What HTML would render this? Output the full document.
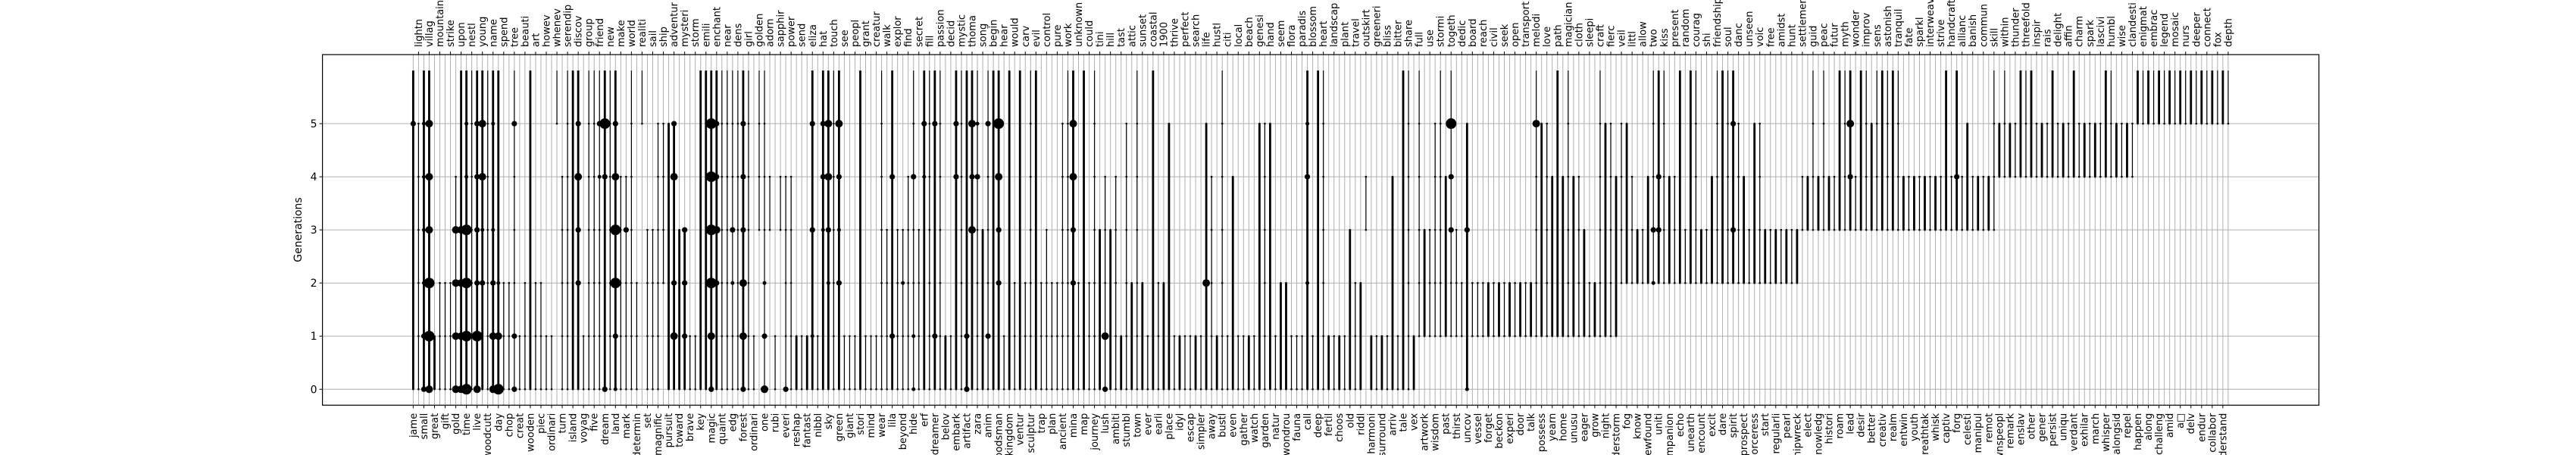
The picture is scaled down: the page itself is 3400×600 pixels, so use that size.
<!DOCTYPE html>
<html><head><meta charset="utf-8"><title>Word generations chart</title>
<style>
html,body{margin:0;padding:0;background:#fff;width:3400px;height:600px;overflow:hidden;}
svg{display:block;font-family:"DejaVu Sans","Liberation Sans",sans-serif;overflow:hidden;}
</style></head>
<body>
<svg id="chart" width="3400" height="600" viewBox="0 0 3400 600" xmlns="http://www.w3.org/2000/svg">
<rect x="0" y="0" width="3400" height="600" fill="#fff"/>
<g id="grid"></g>
<g id="marks"></g>
<g id="axes"></g>
<text x="0" y="0" transform="translate(398,303) rotate(-90)" text-anchor="middle" font-size="14" fill="#000">Generations</text>
</svg>
<script>
const words = ["jame","lightn","small","villag","great","mountain","gift","strike","gold","upon","time","nestl","live","young","woodcutt","name","day","spend","chop","tree","creat","beauti","wooden","art","piec","howev","ordinari","whenev","turn","serendip","island","discov","voyag","group","five","friend","dream","new","land","make","mark","world","determin","realiti","set","sail","magnific","ship","pursuit","adventur","toward","mysteri","brave","storm","key","emili","magic","enchant","quaint","near","edg","dens","forest","girl","ordinari","golden","one","adorn","rubi","sapphir","everi","power","reshap","send","fantast","eliza","nibbl","hat","sky","touch","green","see","giant","peopl","stori","grant","mind","creatur","wear","walk","lila","explor","beyond","find","hide","secret","erf","fill","dreamer","passion","belov","decid","embark","mystic","artifact","thoma","zara","song","anim","begin","woodsman","hear","kingdom","would","ventur","carv","sculptur","evil","trap","control","plan","pure","ancient","work","mina","unknown","map","could","journey","tini","lush","hill","ambiti","tast","stumbl","attic","town","sunset","ever","coastal","earli","1900","place","thrive","idyl","perfect","escap","search","simpler","life","away","hustl","bustl","citi","even","local","gather","beach","watch","genesi","garden","hand","natur","seem","wondrou","flora","fauna","paradis","call","blossom","deep","heart","fertil","landscap","choos","plant","old","travel","riddl","outskirt","harmoni","greeneri","surround","bliss","arriv","bitter","tale","share","vex","full","artwork","use","wisdom","stormi","past","togeth","thirst","dedic","uncov","board","vessel","reach","forget","civil","beckon","seek","experi","open","door","transport","talk","melodi","possess","love","yearn","path","home","magician","unusu","cloth","eager","sleepi","grow","craft","night","fierc","thunderstorm","veil","fog","littl","know","allow","newfound","two","uniti","kiss","companion","present","echo","random","unearth","courag","encount","shi","excit","friendship","dare","soul","spirit","danc","prospect","unseen","sorceress","voic","start","free","regularli","amidst","pearl","hunt","shipwreck","settlement","elect","guid","knowledg","peac","histori","futur","roam","myth","lead","wonder","desir","improv","better","sens","creativ","astonish","realm","tranquil","entwin","fate","youth","sparkl","breathtak","interweav","whisk","strive","captiv","handcraft","forg","allianc","celesti","banish","manipul","commun","remot","skill","townspeopl","within","remark","thunder","enslav","threefold","other","inspir","gener","rais","persist","delight","uniqu","affin","verdant","charm","exhilar","spark","march","lascivi","whisper","humbl","alongsid","wise","repel","clandesti","happen","enigmat","along","embrac","challeng","legend","amid","mosaic","a\u25A1","nurs","delv","deeper","endur","connect","collabor","fox","understand","depth"];
const starts = [0,0,0,0,0,0,0,0,0,0,0,0,0,0,0,0,0,0,0,0,0,0,0,0,0,0,0,5,0,0,0,0,0,0,0,0,0,0,0,0,0,0,0,5,0,0,0,2,0,0,0,0,0,0,0,0,0,0,0,0,0,0,0,0,0,3,0,3,0,3,0,0,0,0,
0,0,0,0,0,0,0,0,0,0,0,0,0,0,0,0,0,0,0,0,0,0,0,0,0,0,0,0,0,0,0,0,0,0,0,0,0,0,0,0,0,0,0,0,0,0,0,0,0,0,0,0,0,0,0,0,0,0,0,0,0,0,0,0,0,0,0,0,0,0,0,0,0,0,0,0,0,0,0,0,0,0,0,0,0,0,0,0,0,0,0,0,0,0,0,0,0,0,
0,0,0,0,0,0,0,3,0,0,0,0,0,0,0,0,0,1,1,1,1,1,1,1,1,1,0,1,1,1,1,1,1,1,1,1,1,1,1,1,1,1,1,1,1,1,1,1,1,1,1,1,1,1,1,2,2,2,2,2,2,2,2,2,2,2,2,2,2,2,2,2,2,2,2,2,2,2,2,2,2,2,2,2,2,2,2,2,2,3,3,3,3,3,3,3,3,3,3,3,3,3,3,3,3,3,3,3,3,3,3,3,3,3,3,3,3,3,3,3,3,3,3,3,3,3,
4,4,4,4,4,4,4,4,4,4,4,4,4,4,4,4,4,4,4,4,4,4,4,4,4,4,5,5,5,5,5,5,5,5,5,5,5,5,5,5,5,5,5,5];
const ends = [6,5,6,6,1,2,2,2,4,6,6,6,6,6,6,6,6,2,2,6,1,2,6,2,2,1,1,6,4,6,6,6,1,6,6,6,6,6,6,4,4,6,2,6,3,3,5,5,5,5,3,3,1,1,6,6,6,6,6,6,6,6,6,6,1,6,6,4,1,4,4,4,1,1,
1,6,1,6,6,6,6,1,1,1,6,1,1,1,6,3,6,3,3,4,6,3,6,6,6,6,1,1,6,6,6,6,6,3,6,6,6,1,6,2,6,2,6,6,2,3,2,2,5,6,6,2,6,2,6,3,4,3,4,1,5,2,6,2,1,6,2,2,5,1,1,1,1,1,1,5,4,1,6,1,4,1,1,1,1,5,5,5,1,2,2,1,1,1,6,1,6,6,
1,1,1,1,3,2,2,4,1,1,1,1,4,1,6,6,1,6,3,3,5,6,4,6,3,2,5,2,2,2,2,2,2,2,2,2,2,2,2,6,5,5,4,6,4,6,4,4,3,2,2,6,5,5,4,5,5,4,3,3,4,6,6,6,4,4,6,3,6,6,3,3,4,6,6,6,6,5,4,3,5,5,3,3,3,3,3,3,3,4,4,6,4,6,4,4,6,6,6,4,6,6,5,6,6,6,6,6,4,4,4,4,4,4,4,4,6,4,6,4,5,4,4,4,4,6,
5,6,5,5,6,6,6,5,5,5,6,5,5,5,6,5,5,5,5,5,6,6,5,5,5,5,6,6,6,6,6,6,6,6,6,6,6,6,6,6,6,6,6,6];
const thick = [1,0,1,1,1,0,0,0,0,1,1,0,1,1,0,1,1,0,0,0,0,0,1,0,0,0,0,0,0,0,1,1,0,0,0,0,1,0,1,0,0,0,0,0,0,0,0,0,1,1,1,1,0,0,1,1,1,1,0,0,0,0,1,0,0,0,0,0,0,0,0,0,1,0,
1,1,0,1,1,0,1,0,0,0,1,0,0,0,0,0,1,0,0,0,0,0,1,0,1,0,1,0,1,0,1,1,0,1,0,1,1,0,1,0,1,0,0,1,0,0,0,0,0,0,1,0,1,0,0,1,0,1,0,1,0,1,0,1,0,1,0,1,1,0,1,0,0,1,0,1,0,1,0,0,1,0,0,1,0,1,0,1,0,1,1,0,0,0,1,0,1,0,1,0,1,0,
1,0,1,0,1,0,1,0,1,0,1,0,1,0,1,0,0,0,1,0,0,0,1,0,0,0,1,0,1,0,1,0,1,0,1,0,1,0,1,1,1,0,1,0,1,0,1,0,1,0,1,0,1,0,1,0,1,0,1,0,1,0,1,0,1,0,1,0,1,0,1,0,1,0,1,0,1,0,1,0,1,0,1,0,1,0,1,0,1,0,1,0,1,0,1,0,1,0,1,0,1,0,1,0,1,0,1,0,1,0,1,0,1,0,1,0,1,0,1,0,1,0,1,0,1,0,
1,0,1,0,1,0,1,0,1,0,1,0,1,0,1,0,1,0,1,0,1,0,1,0,1,0,1,0,1,0,1,0,1,0,1,0,1,0,1,0,1,0,1,0];
const dotCols = [0,2,2,2,2,2,2,3,3,3,3,3,3,8,8,8,8,9,9,9,9,10,10,10,10,10,10,12,12,12,12,12,12,13,13,13,13,15,15,15,15,15,16,16,16,19,19,19,31,31,31,31,35,35,36,36,36,38,38,38,38,38,38,40,49,49,49,49,51,51,51,56,56,56,56,56,56,57,57,57,57,60,60,62,62,62,62,62,62,66,66,66,70,75,75,75,77,77,77,78,78,78,78,80,80,80,80,90,90,92,94,94,94,96,96,98,98,102,102,104,104,105,105,105,106,106,108,108,110,110,110,110,124,124,124,124,130,130,149,168,168,168,195,195,195,198,198,211,233,233,234,234,248,248,270,270,290];
const dotGens = [5,0,1,2,3,4,5,0,1,2,3,4,5,0,1,2,3,0,1,2,3,0,1,2,3,4,5,0,1,2,3,4,5,4,5,3,2,0,1,2,3,5,0,1,2,0,1,5,2,3,4,5,4,5,0,4,5,0,1,2,3,4,5,3,1,2,4,5,1,2,3,1,2,3,4,5,0,2,3,4,5,2,3,0,1,2,3,4,5,0,1,2,0,3,5,1,5,4,3,5,4,3,2,5,4,3,2,4,1,2,4,1,0,5,4,5,1,5,4,0,1,5,4,3,4,5,1,5,5,4,3,2,5,4,3,2,1,0,2,4,5,2,5,4,3,3,0,5,3,2,3,4,3,5,5,4,4];
const dotSizes = [3,3,3,2,2,2,2,4,5,5,4,4,4,4,4,4,4,4,4,4,4,5,5,5,5,2,2,4,5,3,3,3,3,4,4,2,3,4,4,3,2,2,5,4,2,3,3,3,3,3,4,3,2,3,3,3,5,2,3,5,5,4,3,3,4,3,4,3,3,3,3,4,5,5,5,5,3,3,4,3,3,2,3,3,4,4,3,3,3,4,3,2,3,3,3,2,3,3,2,4,4,3,2,4,3,2,3,3,3,2,3,2,2,3,2,3,3,3,3,3,3,4,3,4,3,2,3,3,5,4,3,3,4,4,3,3,4,3,4,3,2,2,5,3,3,3,2,4,3,2,3,3,3,3,4,3,3];
const yTicks = ["0","1","2","3","4","5"];

const NS = "http://www.w3.org/2000/svg";
const PL = 425.6, PR = 3060.7, PT = 72, PB = 534.3;
const xMin = -17.05, xMax = words.length - 1 + 17.05;
const yMin = -0.3, yMax = 6.3;
function xs(i){ return PL + (i - xMin) / (xMax - xMin) * (PR - PL); }
function ys(g){ return PB - (g - yMin) / (yMax - yMin) * (PB - PT); }
const radius = [0, 1.3, 2.5, 3.6, 5, 7];
function mk(tag, attrs, parent){ const e = document.createElementNS(NS, tag); for (const k in attrs) e.setAttribute(k, attrs[k]); parent.appendChild(e); return e; }
const grid = document.getElementById('grid');
const marks = document.getElementById('marks');
const axes = document.getElementById('axes');

yTicks.forEach((t, gi) => {
  const l = mk('line', {x1: PL, x2: PR, y1: ys(gi), y2: ys(gi), stroke: '#b0b0b0', 'stroke-width': 1}, grid);
  
  
});
words.forEach((w, i) => {
  const l = mk('line', {x1: xs(i), x2: xs(i), y1: PT, y2: PB, stroke: '#b0b0b0', 'stroke-width': 1}, grid);
  
  
});
words.forEach((w, i) => {
  const l = mk('line', {x1: xs(i), x2: xs(i), y1: ys(starts[i]), y2: ys(ends[i]), stroke: '#000', 'stroke-width': thick[i] ? 2.8 : 1.2}, marks);
  
  
  for (let g = starts[i]; g <= Math.min(ends[i], 5); g++) {
    const c = mk('circle', {cx: xs(i), cy: ys(g), r: radius[1], fill: '#000'}, marks);
    
    
  }
});
dotCols.forEach((ci, k) => {
  const c = mk('circle', {cx: xs(ci), cy: ys(dotGens[k]), r: radius[dotSizes[k]], fill: '#000'}, marks);
  
  
});
const fr = mk('rect', {x: PL, y: PT, width: PR - PL, height: PB - PT, fill: 'none', stroke: '#000', 'stroke-width': 1.2}, axes);


yTicks.forEach((t, gi) => {
  const y = ys(gi);
  const tk = mk('line', {x1: PL - 4, x2: PL, y1: y, y2: y, stroke: '#000', 'stroke-width': 1}, axes);
  
  
  const tx = mk('text', {x: PL - 7, y: y + 5, 'text-anchor': 'end', 'font-size': 14, fill: '#000'}, axes);
  tx.textContent = t;
  
  
});
words.forEach((w, i) => {
  const x = xs(i);
  if (i % 2 === 0) {
    const tk = mk('line', {x1: x, x2: x, y1: PB, y2: PB + 4, stroke: '#000', 'stroke-width': 1}, axes);
    
    
    const tx = mk('text', {x: 0, y: 0, transform: 'translate(' + (x + 4.5) + ',' + (PB + 10.5) + ') rotate(-90)', 'text-anchor': 'end', 'font-size': 13, fill: '#000'}, axes);
    tx.textContent = w;
    
    
  } else {
    const tk = mk('line', {x1: x, x2: x, y1: PT - 4, y2: PT, stroke: '#000', 'stroke-width': 1}, axes);
    
    
    const tx = mk('text', {x: 0, y: 0, transform: 'translate(' + (x + 4.5) + ',' + (PT - 10) + ') rotate(-90)', 'text-anchor': 'start', 'font-size': 13, fill: '#000'}, axes);
    tx.textContent = w;
    
    
  }
});
</script>
</body></html>
